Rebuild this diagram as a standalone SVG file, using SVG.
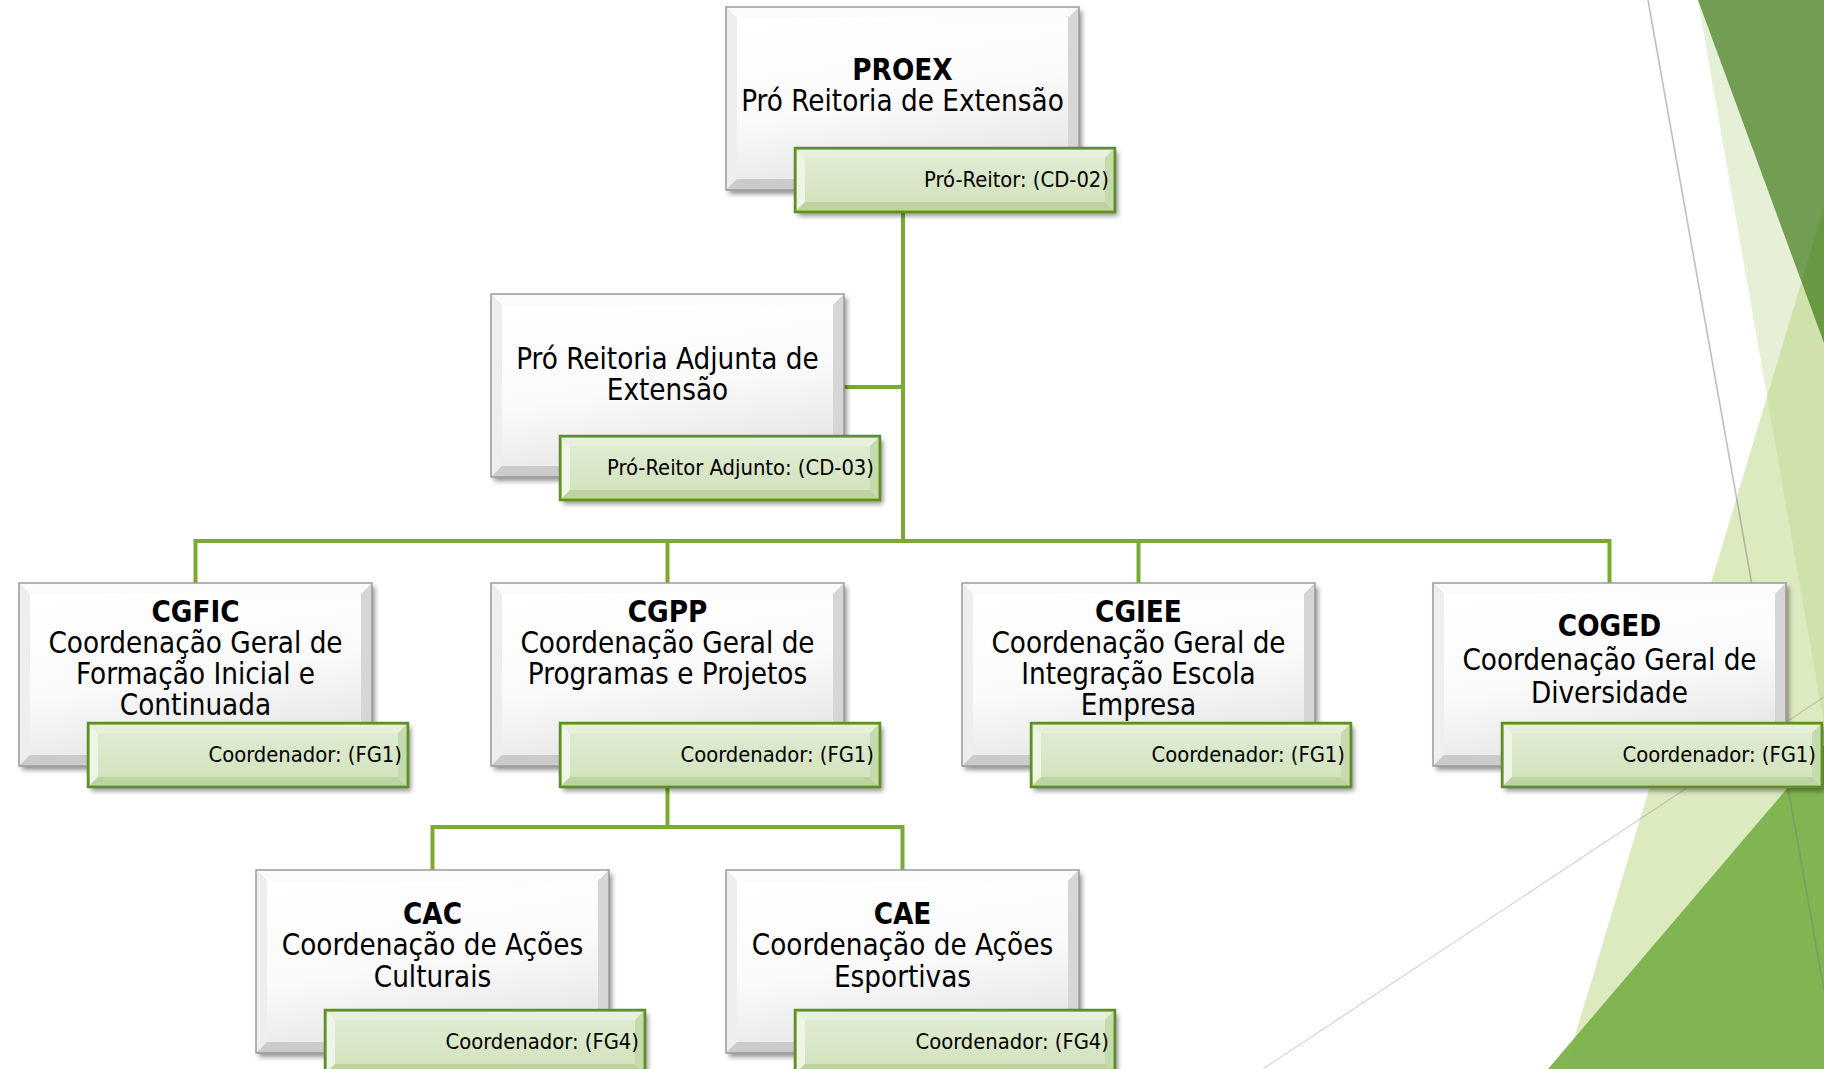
<svg xmlns="http://www.w3.org/2000/svg" width="1824" height="1069" viewBox="0 0 1824 1069">
<defs>
<style>
.t{font-family:'DejaVu Sans Condensed','DejaVu Sans',sans-serif;font-stretch:condensed;font-size:29.3px;fill:#000;text-anchor:middle}
.b{font-weight:bold}
.l{font-family:'DejaVu Sans Condensed','DejaVu Sans',sans-serif;font-stretch:condensed;font-size:21.8px;fill:#000;text-anchor:end}
.conn{fill:none;stroke:#7BAA30;stroke-width:4;stroke-linejoin:miter;stroke-linecap:square}
.deco{stroke:none}
.gl{fill:none;stroke:#808080}
</style>
<filter id="sh" x="-10%" y="-15%" width="125%" height="140%">
<feDropShadow dx="3" dy="4" stdDeviation="2.5" flood-color="#000" flood-opacity="0.42"/>
</filter>
<linearGradient id="face" x1="0" y1="0" x2="0.3" y2="1">
<stop offset="0" stop-color="#ffffff"/><stop offset="0.6" stop-color="#fafafa"/><stop offset="1" stop-color="#e8e8e8"/>
</linearGradient>
<linearGradient id="gface" x1="0" y1="0" x2="0" y2="1">
<stop offset="0" stop-color="#dfebd2"/><stop offset="1" stop-color="#d3e3be"/>
</linearGradient>
<g id="box">
<rect width="353" height="183" fill="#e4e4e4" filter="url(#sh)"/>
<polygon points="0,0 353,0 342,11 11,11" fill="#fbfbfb"/>
<polygon points="0,0 11,11 11,172 0,183" fill="#eeeeee"/>
<polygon points="353,0 353,183 342,172 342,11" fill="#d6d6d6"/>
<polygon points="0,183 353,183 342,172 11,172" fill="#cbcbcb"/>
<rect x="11" y="11" width="331" height="161" fill="url(#face)"/>
<rect width="353" height="183" fill="none" stroke="#9a9a9a" stroke-width="1.5"/>
</g>
<g id="lab">
<rect width="320" height="64" fill="#d5e4c2" filter="url(#sh)"/>
<polygon points="0,0 320,0 310,10 10,10" fill="#e6f0da"/>
<polygon points="0,0 10,10 10,54 0,64" fill="#eef5e6"/>
<polygon points="320,0 320,64 310,54 310,10" fill="#c6dbab"/>
<polygon points="0,64 320,64 310,54 10,54" fill="#bcd3a0"/>
<rect x="10" y="10" width="300" height="44" fill="url(#gface)"/>
<rect x="1.5" y="1.5" width="317" height="61" fill="none" stroke="#a9cc6e" stroke-width="1"/>
<rect width="320" height="64" fill="none" stroke="#5f8f2a" stroke-width="2.5"/>
</g>
</defs>
<rect width="1824" height="1069" fill="#ffffff"/>
<g id="background">
<polygon class="deco" points="1698,0 1824,0 1824,724" fill="#e6f0d6"/>
<polygon class="deco" points="1824,207 1824,1069 1565,1069" fill="rgb(182,211,124)" fill-opacity="0.48"/>
<polygon class="deco" points="1698,0 1824,0 1824,343" fill="rgb(41,104,0)" fill-opacity="0.61"/>
<polygon class="deco" points="1548,1069 1824,745 1824,1069" fill="#7bb24b" fill-opacity="0.95"/>
<line class="gl" x1="1648" y1="0" x2="1824" y2="990" stroke-width="1.6" stroke-opacity="0.5"/>
<line class="gl" x1="1263" y1="1069" x2="1824" y2="697" stroke-width="1.2" stroke-opacity="0.35"/>
</g>
<g id="connectors">
<path class="conn" d="M903 212 V541"/>
<path class="conn" d="M844 387 H903"/>
<path class="conn" d="M195.5 583 V541 H1609.5 V583"/>
<path class="conn" d="M667.5 541 V583"/>
<path class="conn" d="M1138.5 541 V583"/>
<path class="conn" d="M667.5 787 V827"/>
<path class="conn" d="M432.5 870 V827 H902.5 V870"/>
</g>
<g id="proex">
<use href="#box" x="726" y="7"/>
<text class="t b" x="902.5" y="80">PROEX</text>
<text class="t" x="902.5" y="111">Pró Reitoria de Extensão</text>
<use href="#lab" x="795" y="148"/>
<text class="l" x="1109" y="187">Pró-Reitor: (CD-02)</text>
</g>
<g id="pra">
<use href="#box" x="491" y="294"/>
<text class="t" x="667.5" y="369">Pró Reitoria Adjunta de</text>
<text class="t" x="667.5" y="400">Extensão</text>
<use href="#lab" x="560" y="436"/>
<text class="l" x="874" y="475">Pró-Reitor Adjunto: (CD-03)</text>
</g>
<g id="cgfic">
<use href="#box" x="19" y="583"/>
<text class="t b" x="195.5" y="622">CGFIC</text>
<text class="t" x="195.5" y="653">Coordenação Geral de</text>
<text class="t" x="195.5" y="684">Formação Inicial e</text>
<text class="t" x="195.5" y="715">Continuada</text>
<use href="#lab" x="88" y="723"/>
<text class="l" x="402" y="762">Coordenador: (FG1)</text>
</g>
<g id="cgpp">
<use href="#box" x="491" y="583"/>
<text class="t b" x="667.5" y="622">CGPP</text>
<text class="t" x="667.5" y="653">Coordenação Geral de</text>
<text class="t" x="667.5" y="684">Programas e Projetos</text>
<use href="#lab" x="560" y="723"/>
<text class="l" x="874" y="762">Coordenador: (FG1)</text>
</g>
<g id="cgiee">
<use href="#box" x="962" y="583"/>
<text class="t b" x="1138.5" y="622">CGIEE</text>
<text class="t" x="1138.5" y="653">Coordenação Geral de</text>
<text class="t" x="1138.5" y="684">Integração Escola</text>
<text class="t" x="1138.5" y="715">Empresa</text>
<use href="#lab" x="1031" y="723"/>
<text class="l" x="1345" y="762">Coordenador: (FG1)</text>
</g>
<g id="coged">
<use href="#box" x="1433" y="583"/>
<text class="t b" x="1609.5" y="636">COGED</text>
<text class="t" x="1609.5" y="670">Coordenação Geral de</text>
<text class="t" x="1609.5" y="703">Diversidade</text>
<use href="#lab" x="1502" y="723"/>
<text class="l" x="1816" y="762">Coordenador: (FG1)</text>
</g>
<g id="cac">
<use href="#box" x="256" y="870"/>
<text class="t b" x="432.5" y="924">CAC</text>
<text class="t" x="432.5" y="955">Coordenação de Ações</text>
<text class="t" x="432.5" y="987">Culturais</text>
<use href="#lab" x="325" y="1010"/>
<text class="l" x="639" y="1049">Coordenador: (FG4)</text>
</g>
<g id="cae">
<use href="#box" x="726" y="870"/>
<text class="t b" x="902.5" y="924">CAE</text>
<text class="t" x="902.5" y="955">Coordenação de Ações</text>
<text class="t" x="902.5" y="987">Esportivas</text>
<use href="#lab" x="795" y="1010"/>
<text class="l" x="1109" y="1049">Coordenador: (FG4)</text>
</g>
</svg>
